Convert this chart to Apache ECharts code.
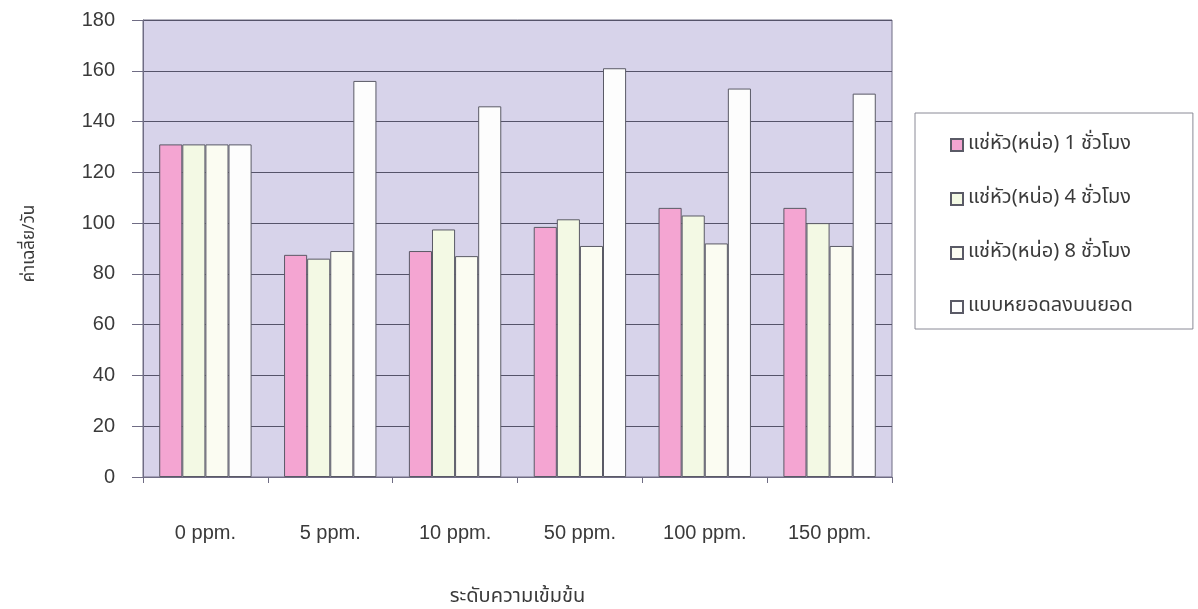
<!DOCTYPE html>
<html>
<head>
<meta charset="utf-8">
<script src="https://cdn.jsdelivr.net/npm/echarts@6/dist/echarts.min.js"></script>
<style>
html,body{margin:0;padding:0;background:#fff;}
#chart{width:1198px;height:609px;}
</style>
</head>
<body>
<div id="chart"></div>
<script>
const categories = ['0 ppm.', '5 ppm.', '10 ppm.', '50 ppm.', '100 ppm.', '150 ppm.'];
const seriesNames = ['แช่หัว(หน่อ) 1 ชั่วโมง', 'แช่หัว(หน่อ) 4 ชั่วโมง', 'แช่หัว(หน่อ) 8 ชั่วโมง', 'แบบหยอดลงบนยอด'];
const soak1h = [131, 87.5, 89, 98.5, 106, 106];
const soak4h = [131, 86, 97.5, 101.5, 103, 100];
const soak8h = [131, 89, 87, 91, 92, 91];
const dropOnTip = [131, 156, 146, 161, 153, 151];
const yTicks = [0, 20, 40, 60, 80, 100, 120, 140, 160, 180];
const xTitle = 'ระดับความเข้มข้น';
const yTitle = 'ค่าเฉลี่ย/วัน';

const colors = ['#f4a5d2', '#f3f9e4', '#fbfcf2', '#fdfdfd'];
const values = [soak1h, soak4h, soak8h, dropOnTip];
const thaiFont = '"Noto Sans Thai","Noto Sans","DejaVu Sans",sans-serif';

const chart = echarts.init(document.getElementById('chart'));
chart.setOption({
  animation: false,
  backgroundColor: '#ffffff',
  grid: {
    left: 143, right: 306, top: 20, bottom: 132,
    outerBoundsMode: 'none',
    containLabel: false,
    show: true, backgroundColor: '#d7d3ea', borderColor: '#6f6c84', borderWidth: 1
  },
  legend: {
    orient: 'vertical',
    left: 915, top: 113,
    padding: [22, 60, 12, 35],
    itemGap: 34,
    itemWidth: 12, itemHeight: 12,
    icon: 'rect',
    backgroundColor: '#ffffff',
    borderColor: '#8a8a96', borderWidth: 1,
    textStyle: { fontFamily: thaiFont, fontSize: 20, lineHeight: 16, color: '#3a3a3a' },
    data: seriesNames
  },
  xAxis: {
    type: 'category',
    data: categories,
    axisLine: { lineStyle: { color: '#6f6c84', width: 1 } },
    axisTick: { show: true, length: 6, lineStyle: { color: '#6f6c84' } },
    axisLabel: { margin: 46, fontFamily: '"Liberation Sans", Arial, sans-serif', fontSize: 20, color: '#3a3a3a' },
    name: xTitle,
    nameLocation: 'middle',
    nameGap: 111,
    nameTextStyle: { fontFamily: thaiFont, fontSize: 20, color: '#3a3a3a' }
  },
  yAxis: {
    type: 'value',
    min: yTicks[0], max: yTicks[yTicks.length - 1], interval: 20,
    axisLine: { show: true, lineStyle: { color: '#6f6c84' } },
    axisTick: { show: true, length: 11, lineStyle: { color: '#6f6c84' } },
    splitLine: { lineStyle: { color: '#55536a', width: 1.2 } },
    axisLabel: { margin: 28, fontFamily: '"Liberation Sans", Arial, sans-serif', fontSize: 20, color: '#3a3a3a' },
    name: yTitle,
    nameLocation: 'middle',
    nameGap: 104,
    nameRotate: 90,
    nameTextStyle: { fontFamily: thaiFont, fontSize: 17, color: '#3a3a3a', padding: [0, 0, 0, 10] }
  },
  series: seriesNames.map((n, i) => ({
    name: n,
    type: 'bar',
    data: values[i],
    barGap: '0%',
    barCategoryGap: '26%',
    itemStyle: { color: colors[i], borderColor: '#5a5a66', borderWidth: 1 }
  }))
});
</script>
</body>
</html>
